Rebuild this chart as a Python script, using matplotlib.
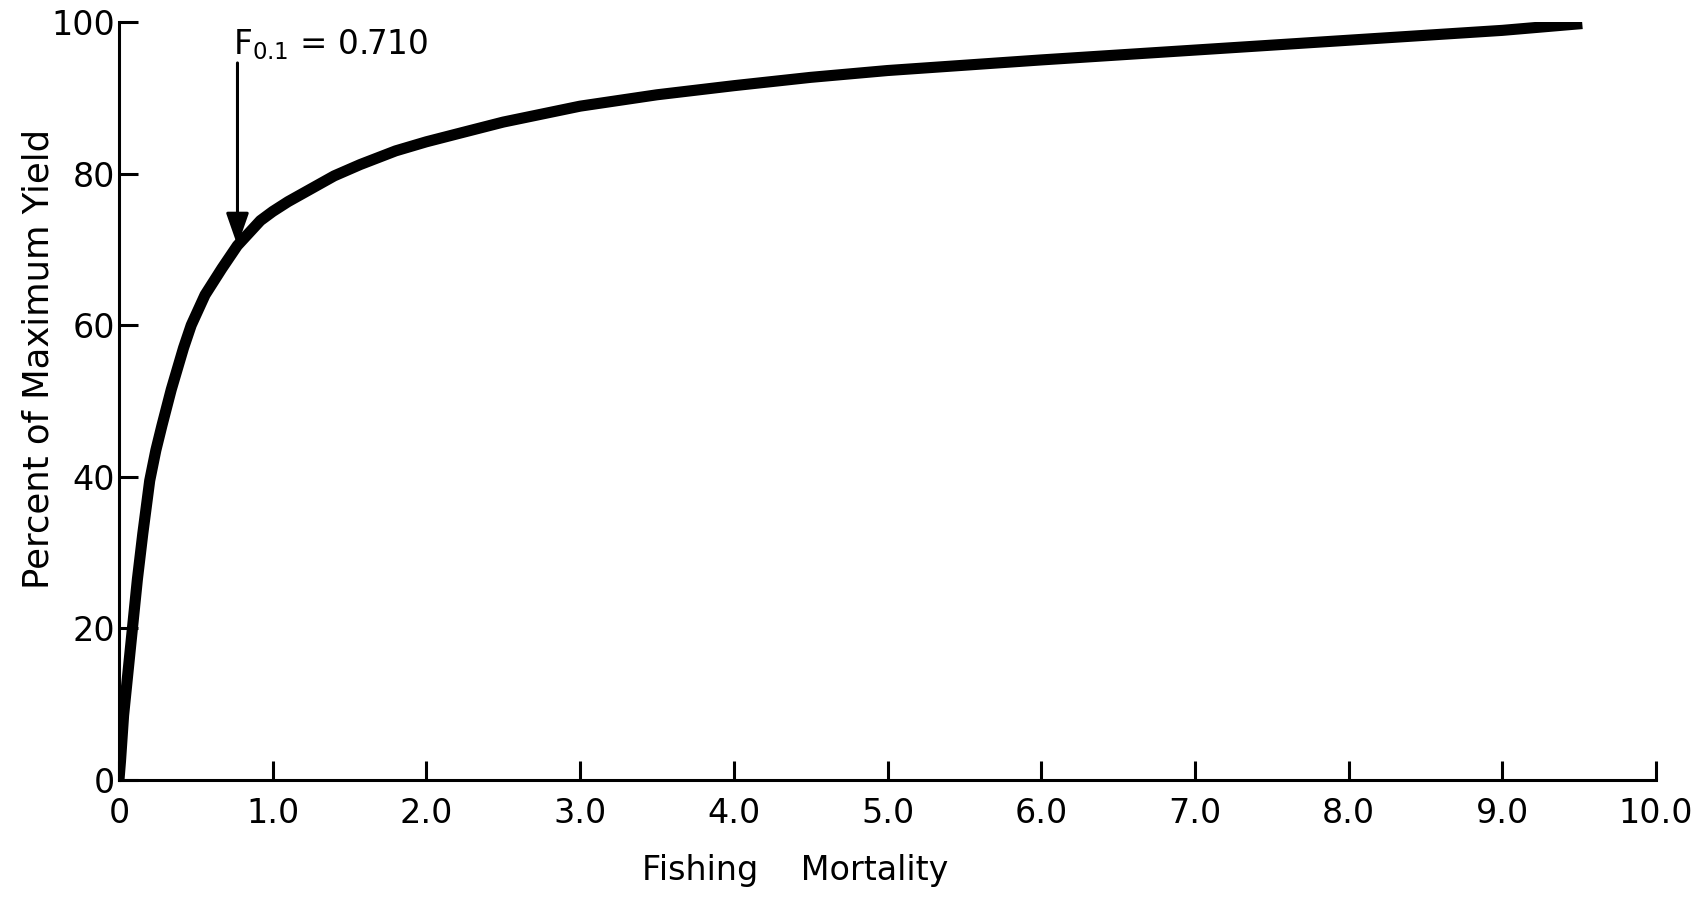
#yield curve: percent of maximum yield against fishing mortality, with the F0.1 point marked
import matplotlib.pyplot as plt

fishing_mortality = [0, 0.01, 0.03, 0.085, 0.12, 0.155, 0.20, 0.24, 0.28, 0.34, 0.42, 0.47, 0.56, 0.67,
                     0.77, 0.92, 1.0, 1.1, 1.25, 1.4, 1.57, 1.8, 2.0, 2.23, 2.5, 3.0, 3.5, 4.0,
                     4.5, 5.0, 6.0, 7.0, 8.0, 9.0, 9.52]
percent_yield = [0, 2.5, 8.5, 19.5, 26.5, 32.5, 39.5, 43.5, 46.8, 51.5, 57.0, 60, 64, 67.5,
                 70.5, 73.8, 75.0, 76.3, 78.0, 79.7, 81.2, 83.0, 84.2, 85.4, 86.8, 88.9, 90.4, 91.6,
                 92.7, 93.6, 95.0, 96.3, 97.6, 98.9, 99.8]
x_ticks = [0, 1, 2, 3, 4, 5, 6, 7, 8, 9, 10]
x_labels = ['0', '1.0', '2.0', '3.0', '4.0', '5.0', '6.0', '7.0', '8.0', '9.0', '10.0']
y_ticks = [0, 20, 40, 60, 80, 100]
f01_x = 0.771  # where the arrow meets the curve as drawn
f01_y = 70.5

plt.rcParams['font.family'] = ['DejaVu Sans']

fig = plt.figure(figsize=(17.02, 8.99), dpi=100)
ax = fig.add_axes([0.0699, 0.1324, 0.9031, 0.8431])

ax.plot(fishing_mortality, percent_yield, color='black', lw=8, solid_capstyle='butt',
        solid_joinstyle='round')

ax.annotate('', xy=(f01_x, f01_y), xytext=(f01_x, 94.6),
            arrowprops=dict(arrowstyle='-|>,head_length=1.0,head_width=0.35',
                            mutation_scale=20, color='black', lw=2.2, shrinkA=0, shrinkB=0))
ax.text(0.745, 95.8, r'$\mathregular{F_{0.1}}$ = 0.710', fontsize=23.5, va='baseline', ha='left')

ax.set_xlim(0, 10)
ax.set_ylim(0, 100)
ax.set_xticks(x_ticks)
ax.set_xticklabels(x_labels)
ax.set_yticks(y_ticks)
for s in ['top', 'right']:
    ax.spines[s].set_visible(False)
for s in ['left', 'bottom']:
    ax.spines[s].set_linewidth(2.2)
ax.tick_params(direction='in', length=14, width=2.2, labelsize=24)
ax.tick_params(axis='x', pad=12)
ax.tick_params(axis='y', pad=3)

ax.set_xlabel('Fishing    Mortality', fontsize=24)
ax.xaxis.set_label_coords(0.44, -0.098)
ax.set_ylabel('Percent of Maximum Yield', fontsize=25.5)
ax.yaxis.set_label_coords(-0.0416, 0.556)

fig.savefig('out.png', dpi=100)
